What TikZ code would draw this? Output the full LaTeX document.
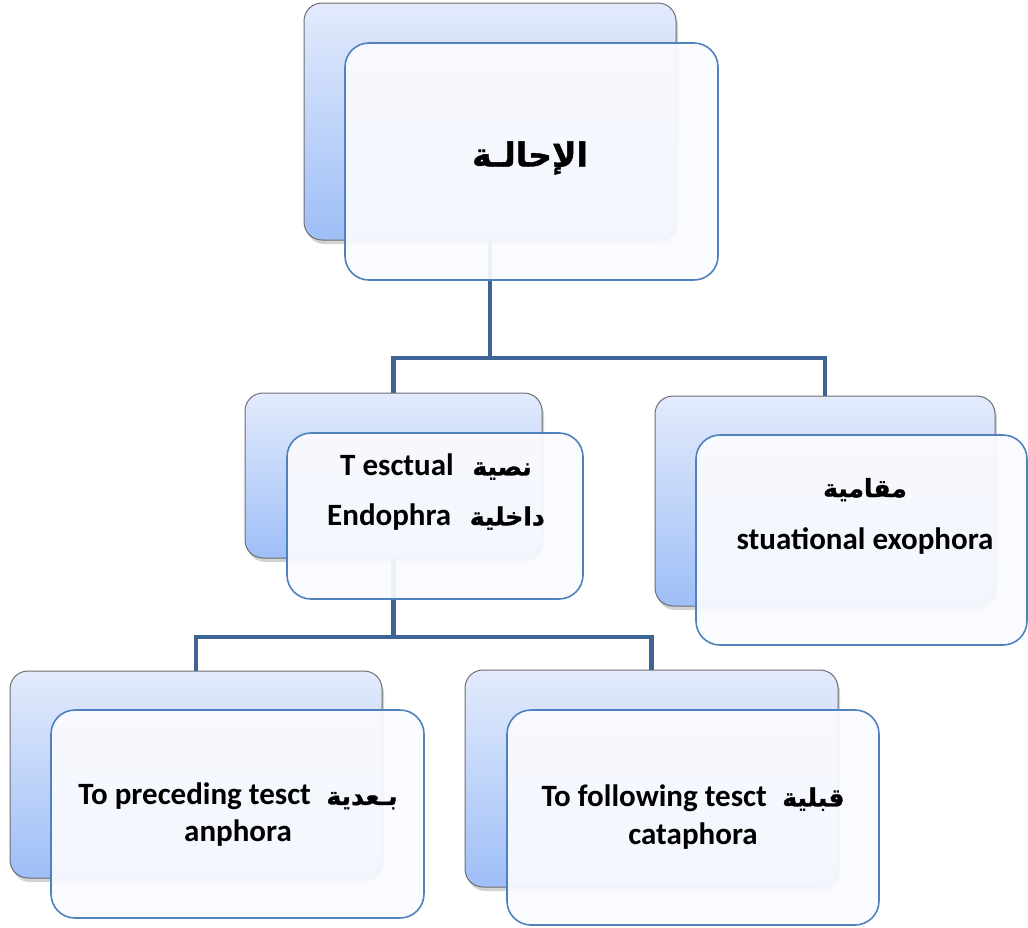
\documentclass[tikz,border=0pt]{standalone}
\usepackage{fontspec}
\setmainfont{Carlito}
\newfontfamily\arabicfont[Script=Arabic, FakeBold=1.2]{DejaVu Sans}
\TeXXeTstate=1
\usetikzlibrary{shadows,backgrounds}
\definecolor{connc}{RGB}{62,100,150}
\definecolor{frontline}{RGB}{79,129,189}
\definecolor{backtop}{RGB}{227,235,252}
\definecolor{backbot}{RGB}{158,190,247}
\definecolor{backline}{RGB}{110,110,115}
\definecolor{frontfill}{RGB}{250,251,255}
\newcommand{\artxt}[1]{{\arabicfont\bfseries\fontsize{25}{30}\selectfont\beginR #1\endR}}
\tikzset{
 backbox/.style={draw=backline, line width=1pt, rounded corners=18pt, top color=backtop, bottom color=backbot,
   drop shadow={shadow xshift=2pt, shadow yshift=-4pt, opacity=0.35}, inner sep=0pt},
 frontbox/.style={draw=frontline, line width=1.6pt, rounded corners=24pt, fill=frontfill, fill opacity=0.93, inner sep=0pt},
 connline/.style={draw=connc, line width=4.5pt},
 lbl/.style={font=\bfseries\fontsize{31}{50}\selectfont, align=center, inner sep=0pt, text=black},
}
\begin{document}
\begin{tikzpicture}[x=1pt,y=-1pt]
\useasboundingbox (0,0) rectangle (1028,927);
\coordinate (j1) at (490,358);
\coordinate (j2) at (393.5,637);
% back boxes
\node[backbox, minimum width=372pt, minimum height=237pt] (topB) at (490,121.5) {};
\node[backbox, minimum width=297pt, minimum height=165pt] (midB) at (393.5,475.5) {};
\node[backbox, minimum width=340pt, minimum height=210pt] (rB) at (825,501) {};
\node[backbox, minimum width=372pt, minimum height=207pt] (blB) at (196,774.5) {};
\node[backbox, minimum width=373pt, minimum height=217pt] (brB) at (651.5,778.5) {};
% front boxes
\node[frontbox, minimum width=373pt, minimum height=237pt] (topF) at (531.5,161.5) {};
\node[frontbox, minimum width=296pt, minimum height=166pt] (midF) at (435,516) {};
\node[frontbox, minimum width=331pt, minimum height=210pt] (rF) at (861.5,540) {};
\node[frontbox, minimum width=373pt, minimum height=208pt] (blF) at (237.5,814) {};
\node[frontbox, minimum width=372pt, minimum height=215pt] (brF) at (693,817.5) {};
% connectors
\begin{scope}[on background layer]
\draw[connline] (topB.south) -- (j1) -| (midB.north);
\draw[connline] (j1) -| (rB.north);
\draw[connline] (midB.south) -- (j2) -| (blB.north);
\draw[connline] (j2) -| (brB.north);
\end{scope}
% labels
\node[lbl] (topT) at (530,158) {{\arabicfont\bfseries\fontsize{33}{40}\selectfont\beginR الإحالـة\endR}};
\node[lbl] (midT) at (436,492) {T esctual\hspace{0.6em}\artxt{نصية}\\Endophra\hspace{0.6em}\artxt{داخلية}};
\node[lbl, font=\bfseries\fontsize{31}{52}\selectfont] (rT) at (865,516) {\artxt{مقامية}\\stuational exophora};
\node[lbl, font=\bfseries\fontsize{31}{37}\selectfont] (blT) at (238,815) {To preceding tesct\hspace{0.5em}\artxt{بـعدية}\\anphora};
\node[lbl, font=\bfseries\fontsize{31}{38}\selectfont] (brT) at (693,817) {To following tesct\hspace{0.5em}\artxt{قبلية}\\cataphora};
\end{tikzpicture}
\end{document}
